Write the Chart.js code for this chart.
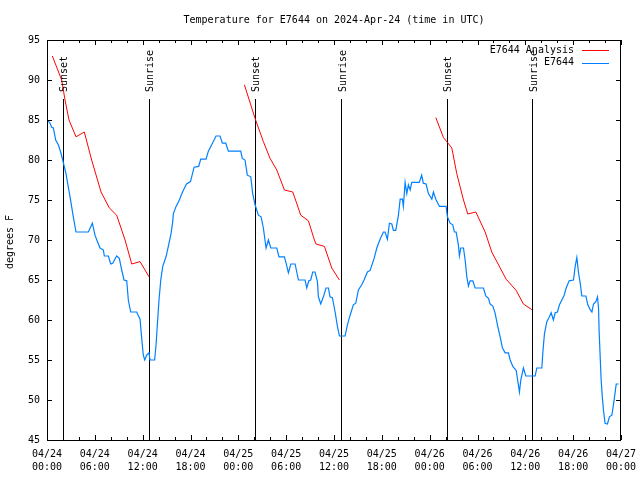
<!DOCTYPE html>
<html>
<head>
<meta charset="utf-8">
<title>Temperature for E7644</title>
<script src="https://cdn.jsdelivr.net/npm/chart.js@4.4.1/dist/chart.umd.min.js"></script>
<style>
  body { margin: 0; background: #fff; }
  canvas { display: block; }
</style>
</head>
<body>
<canvas id="tempChart" width="640" height="480"></canvas>
<script>
// datos (horas desde 04/24 00:00 UTC)
const xTickLabels = [
    ['04/24', '00:00'], ['04/24', '06:00'], ['04/24', '12:00'], ['04/24', '18:00'],
    ['04/25', '00:00'], ['04/25', '06:00'], ['04/25', '12:00'], ['04/25', '18:00'],
    ['04/26', '00:00'], ['04/26', '06:00'], ['04/26', '12:00'], ['04/26', '18:00'],
    ['04/27', '00:00']
];

// E7644 (observado)
const obsHours = [
    0.04, 0.38, 0.59, 0.8, 1.09, 1.42, 1.71, 1.97, 2.38, 2.89, 3.3, 3.64, 5.19, 5.69, 6.02, 6.32,
    6.65, 7.07, 7.19, 7.7, 7.99, 8.24, 8.74, 9.07, 9.37, 9.66, 10.0, 10.2, 10.5, 11.25, 11.67, 11.88,
    12.08, 12.26, 12.5, 12.8, 12.92, 13.5, 13.68, 13.84, 14.05, 14.27, 14.52, 14.93, 15.22, 15.56, 15.77, 15.85,
    16.19, 16.6, 17.0, 17.5, 18.0, 18.45, 19.03, 19.28, 19.95, 20.24, 20.66, 21.2, 21.7, 22.0, 22.42, 22.75,
    24.3, 24.5, 24.84, 25.13, 25.56, 25.8, 26.1, 26.51, 26.85, 27.14, 27.48, 27.77, 28.07, 28.82, 29.1, 29.78,
    29.99, 30.28, 30.58, 31.12, 31.54, 32.37, 32.58, 32.84, 33.08, 33.33, 33.62, 33.92, 34.04, 34.34, 34.67, 35.0,
    35.3, 35.5, 35.8, 36.14, 36.43, 36.68, 37.39, 37.68, 38.02, 38.43, 38.73, 39.06, 39.48, 39.77, 40.19, 40.53,
    41.03, 41.37, 41.78, 42.2, 42.4, 42.7, 42.95, 43.25, 43.45, 43.75, 44.08, 44.3, 44.58, 44.7, 44.92, 45.13,
    45.33, 45.55, 45.76, 46.7, 47.0, 47.2, 47.55, 47.84, 48.27, 48.47, 48.77, 49.23, 50.06, 50.23, 50.56, 50.9,
    51.1, 51.32, 51.6, 51.73, 51.9, 52.24, 52.45, 52.66, 52.86, 53.07, 53.41, 53.7, 54.74, 55.04, 55.37, 55.58,
    55.92, 56.2, 56.5, 56.84, 57.13, 57.47, 57.88, 58.1, 58.43, 58.85, 59.13, 59.26, 59.43, 59.76, 60.06, 61.23,
    61.44, 62.07, 62.2, 62.4, 62.7, 63.02, 63.24, 63.52, 63.74, 64.03, 64.28, 64.58, 64.87, 65.12, 65.5, 66.04,
    66.25, 66.46, 66.66, 66.88, 67.09, 67.59, 67.84, 68.13, 68.35, 68.55, 68.85, 69.05, 69.18, 69.26, 69.38, 69.51,
    69.67, 69.8, 70.0, 70.3, 70.55, 70.85, 71.05, 71.27, 71.4, 71.7
];
const obsTemps = [
    85, 84.6, 84.1, 84, 82.5, 81.9, 81, 80, 78.3, 75.4, 72.9, 71, 71, 72.1, 70.6, 69.8,
    69, 68.75, 68, 68, 67, 67.1, 68, 67.7, 66.25, 65, 64.9, 62.5, 61, 61, 60.1, 57.7,
    55.6, 55, 55.6, 55.9, 55, 55, 56.9, 59.4, 62.5, 65, 66.7, 67.9, 69.2, 70.8, 72.3, 73.3,
    74.2, 75, 76, 77, 77.3, 79.1, 79.2, 80.1, 80.1, 81.1, 81.9, 83, 83, 82.1, 82.1, 81.1,
    81.1, 80.2, 80, 78.1, 77.9, 75.8, 74.4, 73.1, 72.9, 71.5, 69, 70, 69, 69, 67.9, 67.9,
    67.1, 65.9, 67, 67, 65, 65, 64, 64.9, 65, 66, 66, 64.8, 62.9, 62, 62.9, 64,
    64, 62.9, 62.8, 61, 59.2, 58, 58, 59.4, 60.6, 61.9, 62.1, 63.75, 64.4, 65, 66, 66.2,
    67.7, 69, 70.1, 71, 71, 70.1, 72.1, 72, 71.2, 71.2, 73.1, 75.1, 75.1, 74.2, 77.2, 75.8,
    76.9, 76.25, 77.2, 77.2, 78.1, 77.1, 77, 75.8, 75.1, 76, 75.1, 74.2, 74.2, 72.9, 72.1, 71.9,
    71, 71, 69.4, 68, 69, 69, 67.5, 65.4, 64.25, 64.9, 64.9, 64, 64, 63, 62.7, 62,
    61.75, 60.9, 59.4, 57.9, 56.5, 55.9, 55.9, 55, 54.2, 53.7, 51.9, 51, 52.5, 54, 53, 53,
    54, 54, 56, 58.3, 59.8, 60.4, 60.9, 60, 60.9, 61, 61.9, 62.5, 63.1, 64, 64.9, 65,
    66.7, 67.8, 66, 64.6, 63, 63, 61.9, 61.3, 61, 62, 62.3, 62.9, 61.5, 58.5, 55.6, 52.5,
    50.2, 48.75, 47.1, 47, 47.9, 48.1, 49.4, 51, 52, 52
];

// E7644 Analysis (null = corte entre tramos)
const anaHours = [
    0.67, 1.84, 2.26, 2.76, 3.64, 4.68, 5.6, 6.78, 7.82, 8.74, 9.79, 10.63, 11.67, 12.8,
    12.9,
    24.76, 26.1, 27.14, 27.98, 28.82, 29.78, 30.83, 31.83, 32.79, 33.54, 33.75, 34.8, 35.72, 36.68,
    36.8,
    48.77, 49.73, 50.23, 50.78, 51.4, 52.24, 52.78, 53.79, 54.96, 55.79, 57.59, 58.85, 59.76, 60.81
];
const anaTemps = [
    93, 90, 87.5, 85, 82.9, 83.5, 80, 76, 74, 73.1, 70, 67, 67.3, 65.4,
    null,
    89.4, 85.2, 82.3, 80.2, 78.75, 76.25, 76, 73.1, 72.4, 70, 69.5, 69.2, 66.5, 65,
    null,
    85.3, 82.8, 82.2, 81.5, 78.3, 75, 73.25, 73.5, 71, 68.5, 65.1, 63.7, 62, 61.3
];

// salida / puesta de sol
const eventHours = [2.05, 12.84, 26.14, 36.93, 50.22, 60.89];
const eventLabels = ['Sunset', 'Sunrise', 'Sunset', 'Sunrise', 'Sunset', 'Sunrise'];

const FONT = '10px "DejaVu Sans Mono", "Liberation Mono", monospace';

// dibujo estilo gnuplot: marco, ticks hacia dentro, líneas de sol, leyenda, títulos
const gnuplotLook = {
    id: 'gnuplotLook',
    beforeDatasetsDraw(chart) {
        const { ctx, chartArea: a, scales: { x, y } } = chart;
        ctx.save();
        ctx.strokeStyle = '#000';
        ctx.lineWidth = 1;
        const yTop = Math.round(y.getPixelForValue(y.min + 0.8525 * (y.max - y.min)));
        eventHours.forEach(h => {
            const px = Math.round(x.getPixelForValue(h)) + 0.5;
            ctx.beginPath();
            ctx.moveTo(px, yTop);
            ctx.lineTo(px, a.bottom);
            ctx.stroke();
        });
        ctx.restore();
    },
    afterDatasetsDraw(chart) {
        const { ctx, chartArea: a, scales: { x, y } } = chart;
        ctx.save();
        ctx.strokeStyle = '#000';
        ctx.fillStyle = '#000';
        ctx.lineWidth = 1;

        // marco
        ctx.strokeRect(Math.round(a.left) + 0.5, Math.round(a.top) + 0.5,
            Math.round(a.right - a.left) - 1, Math.round(a.bottom - a.top));

        // ticks x cada 2 h, mayores cada 6 h
        ctx.beginPath();
        for (let h = x.min; h <= x.max; h += 2) {
            const px = Math.round(x.getPixelForValue(h)) + 0.5;
            const len = (h % 6 === 0) ? 5 : 3;
            ctx.moveTo(px, a.bottom);
            ctx.lineTo(px, a.bottom - len);
            ctx.moveTo(px, a.top);
            ctx.lineTo(px, a.top + len);
        }
        // ticks y cada 5
        for (let v = y.min; v <= y.max; v += 5) {
            const py = Math.round(y.getPixelForValue(v)) + 0.5;
            ctx.moveTo(a.left, py);
            ctx.lineTo(a.left + 5, py);
            ctx.moveTo(a.right, py);
            ctx.lineTo(a.right - 5, py);
        }
        ctx.stroke();

        ctx.font = FONT;

        // etiquetas Sunset / Sunrise (giradas)
        const yLab = y.getPixelForValue(y.min + 0.87 * (y.max - y.min));
        eventHours.forEach((h, i) => {
            const px = x.getPixelForValue(h) + 1.5;
            ctx.save();
            ctx.translate(px, yLab);
            ctx.rotate(-Math.PI / 2);
            ctx.textAlign = 'left';
            ctx.textBaseline = 'middle';
            ctx.fillText(eventLabels[i], 0, 0);
            ctx.restore();
        });

        // leyenda
        const legend = [
            { text: 'E7644 Analysis', color: '#ff0000', y: 50 },
            { text: 'E7644', color: '#0080ff', y: 62.5 }
        ];
        legend.forEach(item => {
            ctx.textAlign = 'right';
            ctx.textBaseline = 'middle';
            ctx.fillStyle = '#000';
            ctx.fillText(item.text, 574, item.y);
            ctx.strokeStyle = item.color;
            ctx.beginPath();
            ctx.moveTo(582, Math.round(item.y) + 0.5);
            ctx.lineTo(609, Math.round(item.y) + 0.5);
            ctx.stroke();
        });

        // título
        ctx.fillStyle = '#000';
        ctx.textAlign = 'center';
        ctx.textBaseline = 'middle';
        ctx.fillText('Temperature for E7644 on 2024-Apr-24 (time in UTC)', (a.left + a.right) / 2, 20);

        // eje y
        ctx.save();
        ctx.translate(10, (a.top + a.bottom) / 2 + 2);
        ctx.rotate(-Math.PI / 2);
        ctx.fillText('degrees F', 0, 0);
        ctx.restore();

        ctx.restore();
    }
};

const ctx = document.getElementById('tempChart').getContext('2d');
const chart = new Chart(ctx, {
    type: 'line',
    data: {
        datasets: [
            {
                label: 'E7644 Analysis',
                data: anaHours.map((h, i) => ({ x: h, y: anaTemps[i] })),
                borderColor: '#ff0000',
                borderWidth: 1,
                pointRadius: 0,
                tension: 0,
                spanGaps: false
            },
            {
                label: 'E7644',
                data: obsHours.map((h, i) => ({ x: h, y: obsTemps[i] })),
                borderColor: '#0080ff',
                borderWidth: 1.2,
                pointRadius: 0,
                tension: 0
            }
        ]
    },
    options: {
        responsive: false,
        animation: false,
        devicePixelRatio: 1,
        layout: { padding: { left: 0, right: 19, top: 40, bottom: 0 } },
        plugins: {
            legend: { display: false },
            title: { display: false },
            tooltip: { enabled: false }
        },
        scales: {
            x: {
                type: 'linear',
                min: 0,
                max: 72,
                afterFit: s => { s.height = 40; s.paddingLeft = 0; s.paddingRight = 0; },
                grid: { display: false, drawTicks: false },
                border: { display: false },
                ticks: {
                    stepSize: 6,
                    autoSkip: false,
                    maxRotation: 0,
                    padding: 8,
                    color: '#000',
                    font: { family: '"DejaVu Sans Mono", "Liberation Mono", monospace', size: 10, lineHeight: 1.3 },
                    callback: (v, i) => xTickLabels[i]
                }
            },
            y: {
                min: 45,
                max: 95,
                afterFit: s => { s.width = 47; },
                grid: { display: false, drawTicks: false },
                border: { display: false },
                ticks: {
                    stepSize: 5,
                    padding: 7,
                    color: '#000',
                    font: { family: '"DejaVu Sans Mono", "Liberation Mono", monospace', size: 10 }
                }
            }
        }
    },
    plugins: [gnuplotLook]
});
</script>
</body>
</html>
